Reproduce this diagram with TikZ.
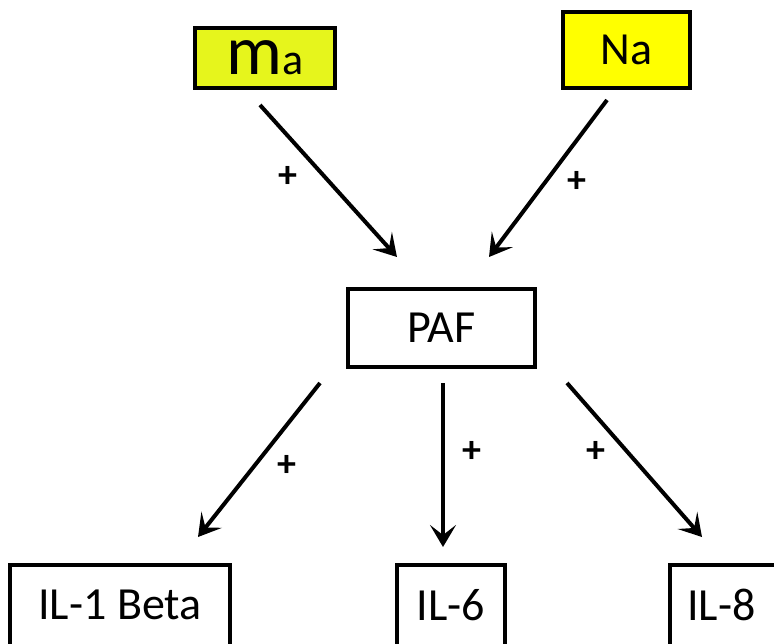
\documentclass[tikz,border=0pt]{standalone}
\usepackage{fontspec}
\setmainfont{Carlito}
\usetikzlibrary{arrows.meta}
\definecolor{limey}{RGB}{230,245,28}
\definecolor{pureyellow}{RGB}{255,255,0}
\tikzset{
  box/.style={draw=black, line width=4pt, inner sep=0pt, font=\fontsize{46}{52}\selectfont},
  lbl/.style={font=\fontsize{46}{52}\selectfont, inner sep=0pt},
  conn/.style={line width=4pt, -{Stealth[length=22pt,width=26pt,inset=10pt]}},
  plus/.style={font=\fontsize{38}{40}\selectfont\bfseries, inner sep=0pt}
}
\begin{document}
\begin{tikzpicture}[x=1pt,y=-1pt]
\useasboundingbox (0,0) rectangle (774,643);
\clip (0,0) rectangle (774,643);
\fill[white] (0,0) rectangle (774,643);
\node[box, fill=limey, minimum width=140pt, minimum height=60pt] (ma) at (265,58) {\fontsize{70}{70}\selectfont m\fontsize{44}{48}\selectfont a};
\node[box, fill=pureyellow, minimum width=127pt, minimum height=76pt] (na) at (626.5,50) {Na};
\node[box, fill=white, minimum width=187pt, minimum height=78pt] (paf) at (441.5,328) {PAF};
\node[box, fill=white, minimum width=220pt, minimum height=90pt] (il1) at (120,610) {};
\node[lbl] (il1t) at (120,605) {IL-1 Beta};
\node[box, fill=white, minimum width=108pt, minimum height=90pt] (il6) at (451,610) {};
\node[lbl] (il6t) at (451,605) {IL-6};
\node[box, fill=white, minimum width=120pt, minimum height=90pt] (il8) at (730,610) {};
\node[lbl, anchor=west] (il8t) at (687,605) {IL-8};
\coordinate (a1s) at (260,105); \coordinate (a1e) at (397,257);
\coordinate (a2s) at (607,100); \coordinate (a2e) at (489,257);
\coordinate (a3s) at (320,383); \coordinate (a3e) at (198,537);
\coordinate (a4s) at (443,383); \coordinate (a4e) at (443,547);
\coordinate (a5s) at (567,383); \coordinate (a5e) at (702,537);
\draw[conn] (a1s) -- (a1e);
\draw[conn] (a2s) -- (a2e);
\draw[conn] (a3s) -- (a3e);
\draw[conn] (a4s) -- (a4e);
\draw[conn] (a5s) -- (a5e);
\node[plus] (p1) at (288,177) {+};
\node[plus] (p2) at (577,182) {+};
\node[plus] (p3) at (287,466) {+};
\node[plus] (p4) at (472,452) {+};
\node[plus] (p5) at (596,452) {+};
\end{tikzpicture}
\end{document}
